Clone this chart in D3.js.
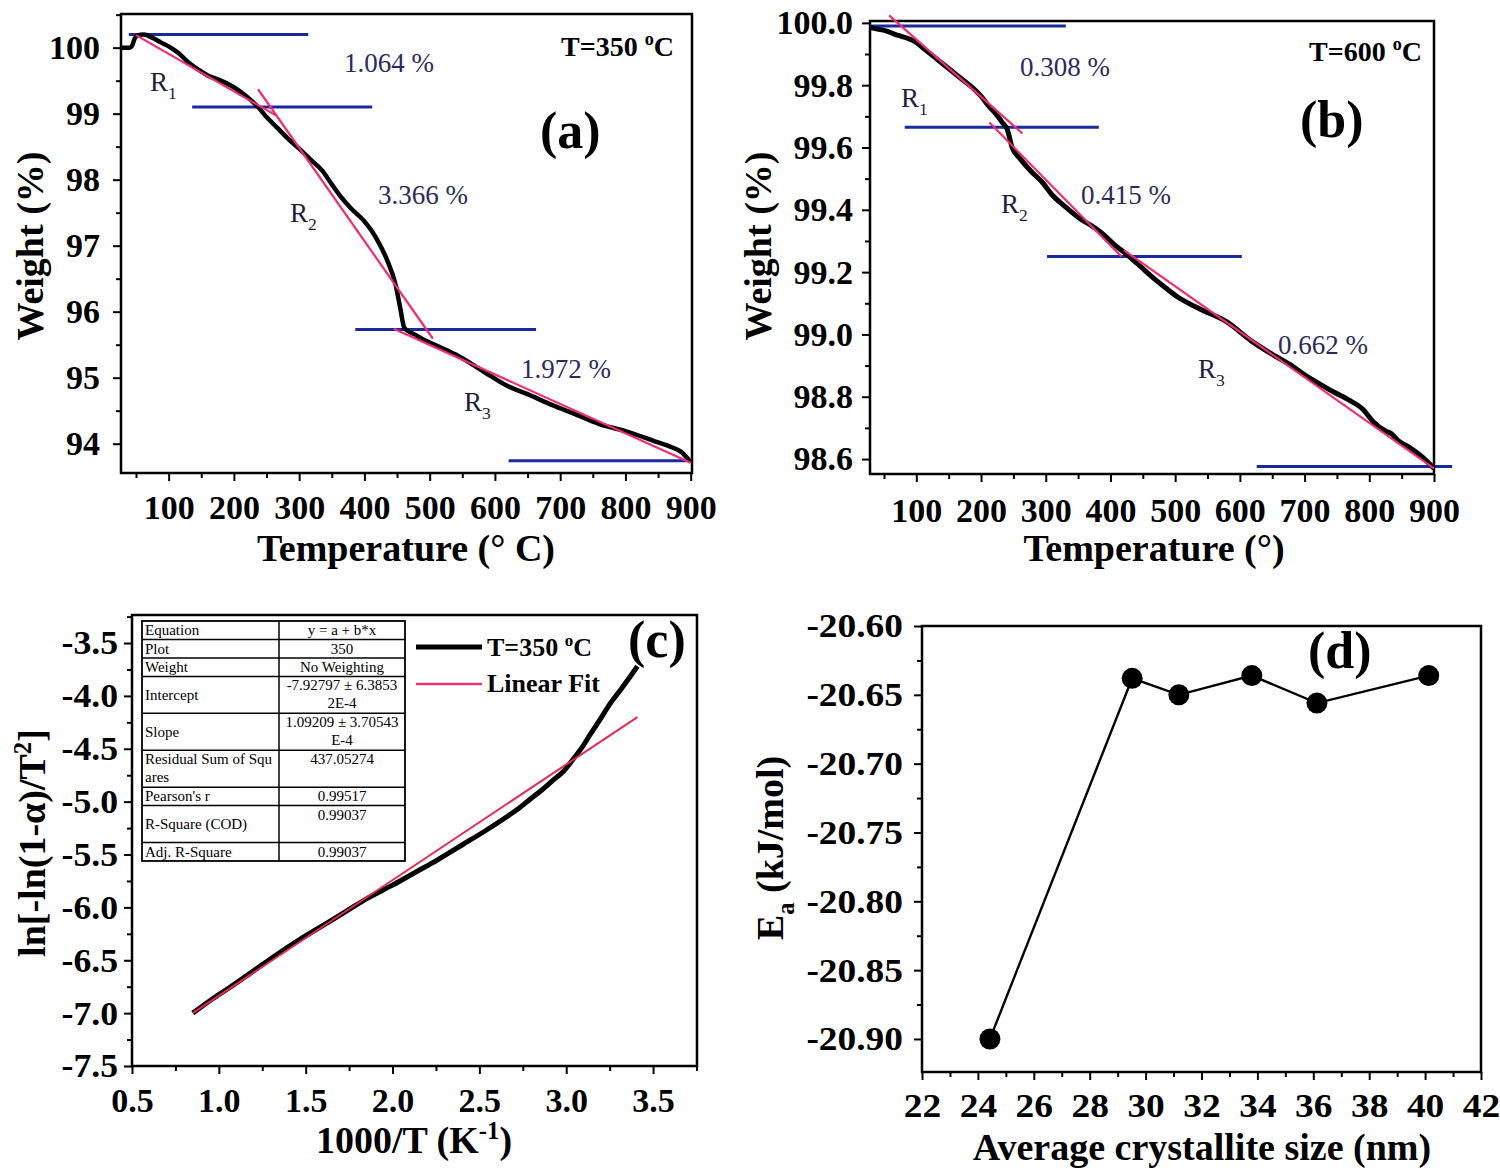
<!DOCTYPE html>
<html>
<head>
<meta charset="utf-8">
<script src="https://cdn.jsdelivr.net/npm/d3@7"></script>
<style>
  body { margin: 0; background: #fff; }
  svg { display: block; }
</style>
</head>
<body>
<script>
// (a) TGA at T=350 C
const tempA = [27, 40, 44, 48, 53, 62, 75, 88, 100, 115, 130, 145, 160, 180, 200, 218, 237, 250, 265, 282,
  300, 318, 336, 350, 364, 380, 399, 410, 420, 434, 448, 455, 461, 468, 476, 490, 512, 540, 583, 618,
  650, 689, 720, 759, 800, 844, 870, 885, 900];
const weightA = [100.0, 100.0, 100.03, 100.14, 100.19, 100.2, 100.15, 100.08, 100.02, 99.92, 99.78, 99.67, 99.58, 99.5, 99.4, 99.27, 99.1, 98.95, 98.8, 98.63,
  98.47, 98.3, 98.13, 97.93, 97.74, 97.56, 97.38, 97.24, 97.08, 96.8, 96.4, 96.05, 95.76, 95.7, 95.66, 95.58, 95.48, 95.35, 95.09, 94.88,
  94.75, 94.58, 94.46, 94.3, 94.19, 94.04, 93.95, 93.88, 93.72];
const fitsA = [[[50, 100.19], [265, 98.97]], [[237, 99.37], [505, 95.59]], [[445, 95.74], [900, 93.71]]];
const stepsA = [[39, 314, 100.2], [136, 412, 99.1], [386, 663, 95.73], [621, 900, 93.74]];
const lossA = ['1.064 %', '3.366 %', '1.972 %'];

// (b) TGA at T=600 C
const tempB = [29, 40, 52, 65, 75, 87, 98, 113, 128, 143, 158, 173, 188, 200, 211, 222, 233, 241, 248, 260,
  279, 294, 309, 330, 354, 370, 384, 405, 429, 448, 467, 485, 504, 540, 580, 617, 655, 680, 700, 720,
  745, 768, 790, 806, 825, 835, 844, 860, 880, 900];
const weightB = [99.985, 99.98, 99.975, 99.965, 99.958, 99.95, 99.94, 99.915, 99.89, 99.865, 99.84, 99.815, 99.79, 99.765, 99.735, 99.71, 99.68, 99.655, 99.6, 99.565,
  99.52, 99.49, 99.45, 99.41, 99.37, 99.35, 99.33, 99.29, 99.25, 99.215, 99.18, 99.15, 99.12, 99.08, 99.04, 98.98, 98.93, 98.9, 98.87, 98.845,
  98.815, 98.79, 98.76, 98.72, 98.69, 98.68, 98.66, 98.64, 98.61, 98.57];
const fitsB = [[[58, 100.024], [264, 99.645]], [[213, 99.68], [417, 99.25]], [[421, 99.27], [900, 98.57]]];
const stepsB = [[28.4, 331, 99.99], [82, 382, 99.665], [302, 603, 99.25], [626, 928, 98.576]];
const lossB = ['0.308 %', '0.415 %', '0.662 %'];

// (c) kinetic plot
const invT = [0.85, 0.95, 1.06, 1.2, 1.33, 1.46, 1.6, 1.73, 1.86, 2.0, 2.13, 2.26, 2.4, 2.53, 2.66, 2.73, 2.79, 2.86, 2.93, 2.98,
  3.03, 3.09, 3.14, 3.2, 3.25, 3.3, 3.35, 3.41];
const lnTerm = [-7.0, -6.88, -6.76, -6.6, -6.45, -6.31, -6.17, -6.04, -5.91, -5.79, -5.67, -5.55, -5.41, -5.28, -5.14, -5.06, -4.98, -4.89, -4.79, -4.72,
  -4.62, -4.49, -4.36, -4.21, -4.08, -3.97, -3.86, -3.72];
const fitC = [[0.85, -7.0], [3.41, -4.2]];
const tableLabels = [['Equation'], ['Plot'], ['Weight'], ['Intercept'], ['Slope'], ['Residual Sum of Squ', 'ares'], ["Pearson's r"], ['R-Square (COD)'], ['Adj. R-Square']];
const tableValues = [['y = a + b*x'], ['350'], ['No Weighting'], ['-7.92797 \u00b1 6.3853', '2E-4'], ['1.09209 \u00b1 3.70543', 'E-4'], ['437.05274'], ['0.99517'], ['0.99037'], ['0.99037']];

// (d) activation energy vs crystallite size
const crystSize = [24.43, 29.52, 31.19, 33.8, 36.13, 40.13];
const energy = [-20.9, -20.638, -20.65, -20.636, -20.656, -20.636];

const FONT = '"Liberation Serif", "Times New Roman", serif';
const PINK = '#f42a74';
const BLUE = '#1a2a9c';
const NAVY = '#2a2a5c';

const svg = d3.select('body').append('svg')
  .attr('width', 1500).attr('height', 1173)
  .attr('font-family', FONT);
svg.append('rect').attr('width', 1500).attr('height', 1173).attr('fill', '#fff');

// text with sub/superscripts: parts = [[str, 'sub'|'sup'|undefined]]
function rich(parent, parts, size, weight, fill) {
  const t = parent.append('text').attr('font-size', size).attr('font-weight', weight).attr('fill', fill);
  let shift = 0;
  parts.forEach(([s, kind]) => {
    const target = kind === 'sub' ? size * 0.3 : kind === 'sup' ? -size * 0.38 : 0;
    const sp = t.append('tspan').text(s).attr('dy', target - shift);
    if (kind) sp.attr('font-size', size * 0.65);
    shift = target;
  });
  return t;
}

// widen tick labels about their anchor point
function stretch(sel, s) {
  if (!s || s === 1) return;
  sel.selectAll('text').attr('transform', function() {
    const x0 = +(this.getAttribute('x') || 0);
    return `translate(${x0 * (1 - s)},0) scale(${s},1)`;
  });
}

function axes(p) {
  const x = d3.scaleLinear().domain(p.xDom).range([p.left, p.right]);
  const y = d3.scaleLinear().domain(p.yDom).range([p.bottom, p.top]);
  const inX = v => v >= Math.min(...p.xDom) - 1e-9 && v <= Math.max(...p.xDom) + 1e-9;
  const inY = v => v >= Math.min(...p.yDom) - 1e-9 && v <= Math.max(...p.yDom) + 1e-9;
  const style = a => a.call(s => s.select('.domain').remove())
    .attr('font-family', FONT).attr('font-size', 34).attr('font-weight', 'bold')
    .call(s => s.selectAll('line').attr('stroke-width', 2));
  const g = svg.append('g');
  g.append('g').attr('transform', `translate(0,${p.bottom})`)
    .call(d3.axisBottom(x).tickValues(p.xMinor.filter(inX)).tickSize(5).tickFormat(''))
    .call(style);
  g.append('g').attr('transform', `translate(0,${p.bottom})`)
    .call(d3.axisBottom(x).tickValues(p.xMajor).tickSize(8).tickPadding(p.xPad).tickFormat(p.xFmt))
    .call(style).call(s => stretch(s, p.xStretch));
  g.append('g').attr('transform', `translate(${p.left},0)`)
    .call(d3.axisLeft(y).tickValues(p.yMinor.filter(inY)).tickSize(5).tickFormat(''))
    .call(style);
  g.append('g').attr('transform', `translate(${p.left},0)`)
    .call(d3.axisLeft(y).tickValues(p.yMajor).tickSize(8).tickPadding(p.yPad).tickFormat(p.yFmt))
    .call(style).call(s => stretch(s, p.yStretch));
  g.append('rect').attr('x', p.left).attr('y', p.top)
    .attr('width', p.right - p.left).attr('height', p.bottom - p.top)
    .attr('fill', 'none').attr('stroke', '#000').attr('stroke-width', 2.5);
  return { x, y, g };
}

function xTitle(parts, cx, base) {
  rich(svg, parts, 38, 'bold', '#000').attr('x', cx).attr('y', base).attr('text-anchor', 'middle');
}
function yTitle(parts, bx, cy) {
  rich(svg, parts, 38, 'bold', '#000').attr('text-anchor', 'middle')
    .attr('transform', `translate(${bx},${cy}) rotate(-90)`);
}

// TGA panel drawer
function tga(p, temp, weight, fits, steps, loss, notes) {
  const { x, y, g } = axes(p);
  const line = d3.line().x(d => x(d[0])).y(d => y(d[1]));
  g.selectAll('.step').data(steps).enter().append('line')
    .attr('x1', d => x(d[0])).attr('x2', d => x(d[1]))
    .attr('y1', d => y(d[2])).attr('y2', d => y(d[2]))
    .attr('stroke', BLUE).attr('stroke-width', 3);
  g.append('path').datum(d3.zip(temp, weight))
    .attr('d', line.curve(d3.curveMonotoneX))
    .attr('fill', 'none').attr('stroke', '#000').attr('stroke-width', p.curveW);
  g.selectAll('.fit').data(fits).enter().append('path')
    .attr('d', d3.line().x(d => x(d[0])).y(d => y(d[1])))
    .attr('fill', 'none').attr('stroke', PINK).attr('stroke-width', 2.2);
  loss.forEach((s, i) => {
    g.append('text').attr('x', notes.loss[i][0]).attr('y', notes.loss[i][1])
      .attr('font-size', 27).attr('fill', NAVY).text(s);
  });
  notes.r.forEach((pos, i) => {
    rich(g, [['R'], [String(i + 1), 'sub']], 27, 'normal', '#1e1e3e').attr('x', pos[0]).attr('y', pos[1]);
  });
  rich(g, [[notes.temp], ['o', 'sup'], ['C']], 28, 'bold', '#000')
    .attr('x', notes.tempPos[0]).attr('y', notes.tempPos[1]).attr('text-anchor', 'end');
  g.append('text').attr('x', notes.tag[0]).attr('y', notes.tag[1])
    .attr('font-size', 52).attr('font-weight', 'bold').text(notes.tagText);
}

// (a)
tga({
  left: 121, right: 692, top: 14, bottom: 473,
  xDom: [27, 902], yDom: [93.556, 100.51],
  xMajor: d3.range(100, 901, 100), xMinor: d3.range(50, 901, 100),
  yMajor: d3.range(94, 100.1, 1), yMinor: d3.range(93.5, 100.6, 1),
  xFmt: d => d, yFmt: d => d, xPad: 14, yPad: 13, curveW: 4.5
}, tempA, weightA, fitsA, stepsA, lossA, {
  loss: [[344, 72], [378, 204], [521, 378]],
  r: [[150, 91], [290, 222], [464, 411]],
  temp: 'T=350 ', tempPos: [674, 56],
  tag: [540, 148], tagText: '(a)'
});
xTitle([['Temperature (\u00b0 C)']], 406, 561);
yTitle([['Weight (%)']], 43, 246);

// (b)
tga({
  left: 870, right: 1434, top: 21, bottom: 474,
  xDom: [28.4, 900], yDom: [98.552, 100.006],
  xMajor: d3.range(100, 901, 100), xMinor: d3.range(50, 901, 100),
  yMajor: d3.range(98.6, 100.01, 0.2), yMinor: d3.range(98.7, 100.0, 0.2),
  xFmt: d => d, yFmt: d => d.toFixed(1), xPad: 16, yPad: 9, curveW: 5
}, tempB, weightB, fitsB, stepsB, lossB, {
  loss: [[1020, 76], [1081, 204], [1278, 354]],
  r: [[901, 107], [1001, 213], [1198, 378]],
  temp: 'T=600 ', tempPos: [1422, 61],
  tag: [1300, 137], tagText: '(b)'
});
xTitle([['Temperature (\u00b0)']], 1154, 561);
yTitle([['Weight (%)']], 771, 246);

// (c)
{
  const { x, y, g } = axes({
    left: 132, right: 697, top: 615, bottom: 1066,
    xDom: [0.5, 3.753], yDom: [-7.5, -3.235],
    xMajor: d3.range(0.5, 3.51, 0.5), xMinor: d3.range(0.75, 3.76, 0.5),
    yMajor: d3.range(-7.5, -3.49, 0.5), yMinor: d3.range(-7.25, -3.2, 0.5),
    xFmt: d => d.toFixed(1), yFmt: d => d.toFixed(1), xPad: 14, yPad: 6, yStretch: 1.05
  });
  g.append('path').datum(d3.zip(invT, lnTerm))
    .attr('d', d3.line().x(d => x(d[0])).y(d => y(d[1])).curve(d3.curveMonotoneX))
    .attr('fill', 'none').attr('stroke', '#000').attr('stroke-width', 5);
  g.append('path').datum(fitC)
    .attr('d', d3.line().x(d => x(d[0])).y(d => y(d[1])))
    .attr('fill', 'none').attr('stroke', '#e8284e').attr('stroke-width', 2);

  // fit table
  const tl = 142, tr = 405, tm = 279, tt = 621, unit = 18.46;
  const units = [1, 1, 1, 2, 2, 2, 1, 2, 1];
  const tg = g.append('g').attr('font-size', 15).attr('fill', '#000');
  tg.append('rect').attr('x', tl).attr('y', tt).attr('width', tr - tl).attr('height', unit * d3.sum(units))
    .attr('fill', '#fff').attr('stroke', '#000').attr('stroke-width', 1.8);
  tg.append('line').attr('x1', tm).attr('x2', tm).attr('y1', tt).attr('y2', tt + unit * d3.sum(units))
    .attr('stroke', '#000').attr('stroke-width', 1.5);
  let y0 = tt;
  units.forEach((u, i) => {
    const h = u * unit;
    if (i > 0) tg.append('line').attr('x1', tl).attr('x2', tr).attr('y1', y0).attr('y2', y0)
      .attr('stroke', '#000').attr('stroke-width', 1.5);
    const lab = tableLabels[i], val = tableValues[i];
    if (lab.length > 1) {
      lab.forEach((s, k) => tg.append('text').attr('x', tl + 3).attr('y', y0 + 14 + k * 18).text(s));
    } else {
      tg.append('text').attr('x', tl + 3).attr('y', y0 + h / 2 + 5).text(lab[0]);
    }
    if (val.length > 1) {
      val.forEach((s, k) => tg.append('text').attr('x', (tm + tr) / 2).attr('y', y0 + 14 + k * 18)
        .attr('text-anchor', 'middle').text(s));
    } else {
      tg.append('text').attr('x', (tm + tr) / 2).attr('y', u > 1 ? y0 + 14 : y0 + h / 2 + 5)
        .attr('text-anchor', 'middle').text(val[0]);
    }
    y0 += h;
  });

  // legend
  g.append('line').attr('x1', 416).attr('x2', 482).attr('y1', 647).attr('y2', 647)
    .attr('stroke', '#000').attr('stroke-width', 5);
  rich(g, [['T=350 '], ['o', 'sup'], ['C']], 26, 'bold', '#000').attr('x', 487).attr('y', 656);
  g.append('line').attr('x1', 416).attr('x2', 482).attr('y1', 684).attr('y2', 684)
    .attr('stroke', '#e8386a').attr('stroke-width', 2.5);
  g.append('text').attr('x', 487).attr('y', 692).attr('font-size', 26).attr('font-weight', 'bold').text('Linear Fit');
  g.append('text').attr('x', 628).attr('y', 657).attr('font-size', 52).attr('font-weight', 'bold').text('(c)');
}
xTitle([['1000/T (K'], ['-1', 'sup'], [')']], 414, 1153);
yTitle([['ln[-ln(1-\u03b1)/T'], ['2', 'sup'], [']']], 45, 843);

// (d)
{
  const { x, y, g } = axes({
    left: 922, right: 1481, top: 626, bottom: 1072,
    xDom: [22, 42], yDom: [-20.924, -20.6],
    xMajor: d3.range(22, 42.1, 2), xMinor: d3.range(23, 42, 2),
    yMajor: d3.range(-20.9, -20.599, 0.05), yMinor: d3.range(-20.875, -20.6, 0.05),
    xFmt: d => d, yFmt: d => d.toFixed(2), xPad: 13, yPad: 11, xStretch: 1.1, yStretch: 1.1
  });
  const pts = d3.zip(crystSize, energy);
  g.append('path').datum(pts)
    .attr('d', d3.line().x(d => x(d[0])).y(d => y(d[1])))
    .attr('fill', 'none').attr('stroke', '#000').attr('stroke-width', 2.4);
  g.selectAll('circle').data(pts).enter().append('circle')
    .attr('cx', d => x(d[0])).attr('cy', d => y(d[1])).attr('r', 10.5).attr('fill', '#000');
  g.append('text').attr('x', 1308).attr('y', 668).attr('font-size', 52).attr('font-weight', 'bold').text('(d)');
}
xTitle([['Average crystallite size (nm)']], 1202, 1160);
yTitle([['E'], ['a', 'sub'], [' (kJ/mol)']], 783, 848);
</script>
</body>
</html>
